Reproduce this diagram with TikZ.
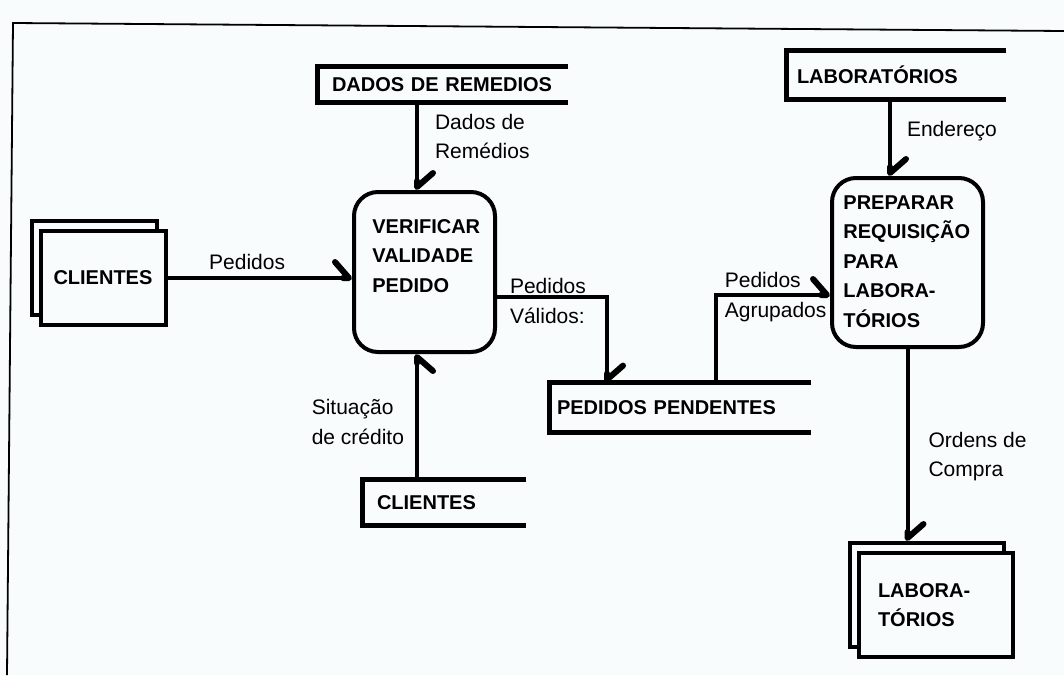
\documentclass[tikz,border=0pt]{standalone}
\usepackage{fontspec}
\setmainfont{Liberation Sans}
\usetikzlibrary{arrows.meta}
\definecolor{paper}{RGB}{248,252,252}

\begin{document}
\begin{tikzpicture}[x=0.5pt, y=-0.5pt,
	box/.style={draw, line width=2pt, fill=paper, minimum width=62.5pt, minimum height=47pt, align=left, font=\fontsize{10}{14.75}\selectfont\bfseries},
	proc/.style={draw, line width=2pt, rounded corners=12pt},
	proctext/.style={anchor=north west, inner sep=0pt, align=left, font=\fontsize{10}{14.75}\selectfont\bfseries},
	store/.style={inner ysep=0pt, inner xsep=7pt, align=left, font=\fontsize{10}{12}\selectfont\bfseries},
	flow/.style={line width=2pt, -{Straight Barb[left, length=7pt, width=16pt, line width=3pt, round]}},
	flowr/.style={line width=2pt, -{Straight Barb[right, length=7pt, width=16pt, line width=3pt, round]}},
	lbl/.style={inner sep=0pt, align=left, font=\fontsize{10.5}{14.75}\selectfont}]

\fill [paper] (0,0) rectangle (1064,675);
\useasboundingbox (0,0) rectangle (1064,675);
\draw [line width=0.9pt] (7,675) -- (13,23) -- (1064,31);

\node [box] (cliback) at (94.5,268) {};
\node [box, text width=50pt] (cli) at (103.5,278) {CLIENTES};
\node [box, minimum width=77pt, minimum height=52pt] (labback) at (927,595) {};
\node [box, minimum width=77pt, minimum height=52pt, text width=58pt] (labext) at (936,605) {LABORA-\\TÓRIOS};

\node [proc, minimum width=70.5pt, minimum height=80pt] (verif) at (424.5,272) {};
\node [proctext] (veriftext) at (372,219) {VERIFICAR\\VALIDADE\\PEDIDO};
\node [proc, minimum width=75.5pt, minimum height=84.5pt] (prep) at (907.5,262.5) {};
\node [proctext] (preptext) at (843,195) {PREPARAR\\REQUISIÇÃO\\PARA\\LABORA-\\TÓRIOS};

\node [store, minimum width=125pt, minimum height=17.5pt, text width=111pt] (dados) at (443,84.5) {DADOS DE REMEDIOS};
\node [store, inner xsep=5pt, minimum width=109.5pt, minimum height=24pt, text width=99.5pt] (labsto) at (896.5,75) {LABORATÓRIOS};
\node [store, inner xsep=3.5pt, minimum width=130.5pt, minimum height=24.5pt, text width=123.5pt] (pend) at (680.5,407.5) {PEDIDOS PENDENTES};
\node [store, minimum width=81.5pt, minimum height=22.5pt, text width=67.5pt] (clisto) at (444.5,502.5) {CLIENTES};
\foreach \s in {dados, labsto, pend, clisto}
	\draw [line width=2.4pt] (\s.north east) -- (\s.north west) -- (\s.south west) -- (\s.south east);

\draw [flow] (cli.east) -- node [lbl, above=3pt, pos=.43] (lped) {Pedidos} (cli.east -| verif.west);
\draw [flow] ([xshift=-13pt]dados.south) -- node [lbl, anchor=west, xshift=8pt, pos=.39] (ldados) {Dados de\\Remédios} ([xshift=-13pt]dados.south |- verif.north);
\draw [flowr] ([xshift=-13.75pt]clisto.north) -- node [lbl, anchor=east, xshift=-5.5pt, pos=.46] (lsit) {Situação\\de crédito} ([xshift=-13.75pt]clisto.north |- verif.south);
\draw [flow] ([yshift=-12.5pt]verif.east) -| node [lbl, anchor=west, pos=.05, yshift=-2pt] (lval) {Pedidos\\Válidos:} ([xshift=-36.75pt]pend.north);
\draw [flow] ([xshift=17.75pt]pend.north) |- node [lbl, anchor=west, pos=.53, yshift=-1pt] (lagr) {Pedidos\\Agrupados} ([yshift=-16.25pt]prep.west);
\draw [flow] ([xshift=-3.25pt]labsto.south) -- node [lbl, anchor=west, xshift=7.5pt, pos=.42] (lend) {Endereço} ([xshift=-3.25pt]labsto.south |- prep.north);
\draw [flow] (prep.south) -- node [lbl, anchor=west, xshift=9.5pt, pos=.56] (lord) {Ordens de\\Compra} (prep.south |- labback.north);
\end{tikzpicture}
\end{document}
